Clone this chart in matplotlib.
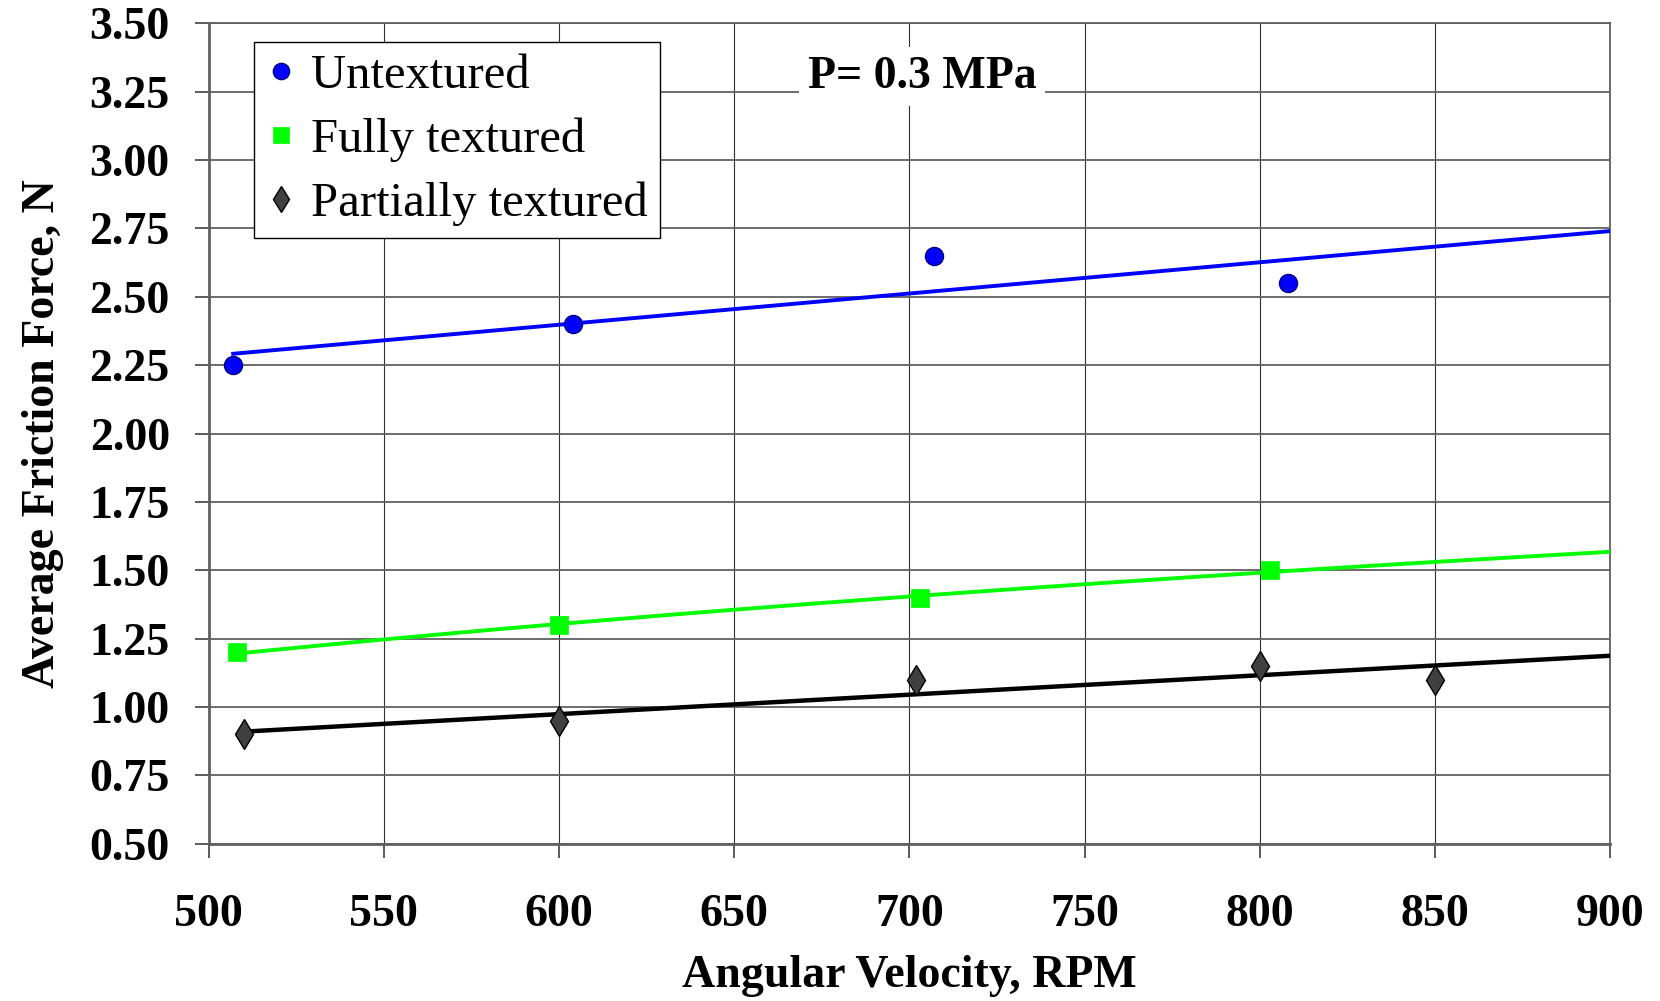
import numpy as np
import matplotlib
matplotlib.use("Agg")
import matplotlib.pyplot as plt

# ---- data ----
untex_x = [507, 604, 707, 808]
untex_y = [2.25, 2.40, 2.65, 2.55]
full_x = [508, 600, 703, 803]
full_y = [1.20, 1.30, 1.40, 1.50]
part_x = [510, 600, 702, 800, 850]
part_y = [0.90, 0.95, 1.10, 1.15, 1.10]
x_ticks = [500, 550, 600, 650, 700, 750, 800, 850, 900]
y_ticks = [0.50, 0.75, 1.00, 1.25, 1.50, 1.75, 2.00, 2.25, 2.50, 2.75, 3.00, 3.25, 3.50]
labels = ["Untextured", "Fully textured", "Partially textured"]
title_text = "P= 0.3 MPa"

plt.rcParams['font.family'] = ['Liberation Serif', 'DejaVu Serif']

fig = plt.figure(figsize=(16.6, 10.01), dpi=100)
ax = fig.add_axes([0.1257, 0.157, 0.970 - 0.1257, 0.9767 - 0.157])

ax.set_xlim(500, 900)
ax.set_ylim(0.5, 3.5)
ax.set_xticks(x_ticks)
ax.set_yticks(y_ticks)
ax.set_yticklabels([f"{v:.2f}" for v in y_ticks])
ax.xaxis.grid(True, color='#303030', linewidth=0.8)
ax.yaxis.grid(True, color='#606060', linewidth=1.3)
ax.set_axisbelow(True)

for s in ax.spines.values():
    s.set_color('#606060')
    s.set_linewidth(1.3)
ax.spines['left'].set_linewidth(2.0)
ax.spines['bottom'].set_linewidth(2.0)

ax.tick_params(axis='both', direction='out', length=10, width=1.2, color='#404040')
ax.tick_params(axis='y', pad=18, labelsize=33)
ax.tick_params(axis='x', pad=26, labelsize=33)
for lab in ax.get_xticklabels() + ax.get_yticklabels():
    lab.set_fontweight('bold')

def trend_linear(xs, ys, color, lw):
    p = np.polyfit(xs, ys, 1)
    xx = np.array([min(xs), 900])
    ax.plot(xx, np.polyval(p, xx), color=color, lw=lw, zorder=3)

def trend_log(xs, ys, color, lw):
    p = np.polyfit(np.log(xs), ys, 1)
    xx = np.linspace(min(xs), 900, 100)
    ax.plot(xx, np.polyval(p, np.log(xx)), color=color, lw=lw, zorder=3)

trend_linear(untex_x, untex_y, '#0000FF', 2.8)
trend_log(full_x, full_y, '#00FF00', 2.8)
trend_linear(part_x, part_y, '#000000', 3.2)

h1, = ax.plot(untex_x, untex_y, 'o', ms=13, mfc='#0000FF', mec='#000080', mew=1.0,
              ls='none', zorder=4, label=labels[0])
h2, = ax.plot(full_x, full_y, 's', ms=12.5, mfc='#00FF00', mec='#00FF00', mew=0.5,
              ls='none', zorder=4, label=labels[1])
h3, = ax.plot(part_x, part_y, 'd', ms=15, mfc='#404040', mec='#000000', mew=1.0,
              ls='none', zorder=4, label=labels[2])

leg = ax.legend(handles=[h1, h2, h3], loc='upper left', bbox_to_anchor=(0.0324, 0.977),
                borderaxespad=0, prop={'size': 35}, handlelength=0.6, handletextpad=0.32,
                labelspacing=0.40, borderpad=0.25, fancybox=False, frameon=True,
                markerscale=0.9)
leg.get_frame().set_edgecolor('#000000')
leg.get_frame().set_linewidth(1.0)
leg.get_frame().set_alpha(1)

ax.text(0.509, 0.935, title_text, transform=ax.transAxes, ha='center', va='center',
        fontsize=33, fontweight='bold', zorder=5,
        bbox=dict(facecolor='white', edgecolor='none', pad=6))

ax.set_xlabel("Angular Velocity, RPM", fontsize=33, fontweight='bold', labelpad=14)
ax.set_ylabel("Average Friction Force, N", fontsize=33, fontweight='bold', labelpad=18)

fig.savefig("out.png", dpi=100)
